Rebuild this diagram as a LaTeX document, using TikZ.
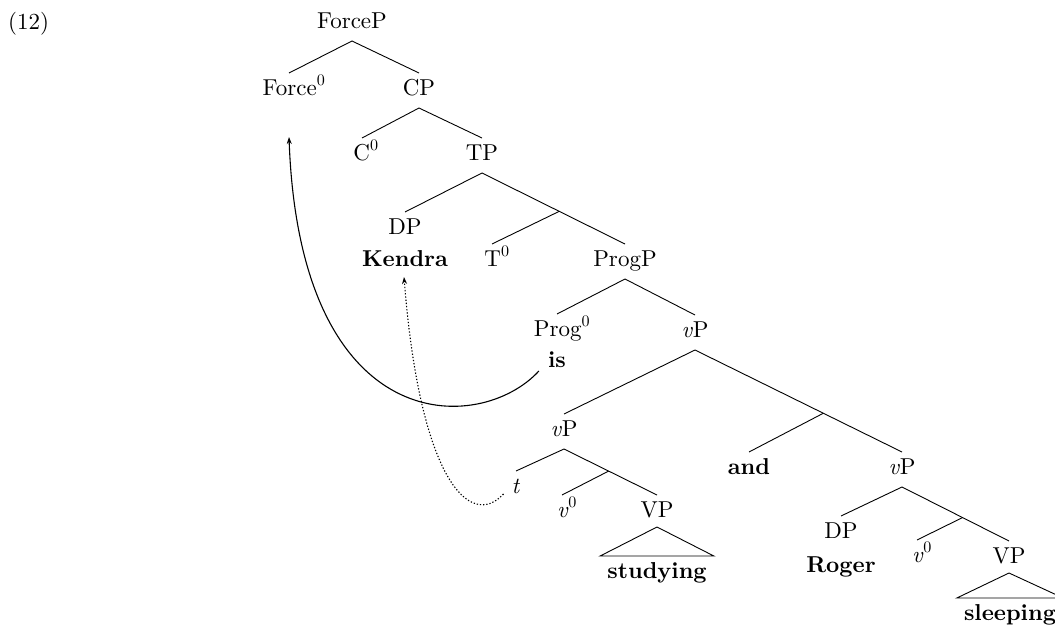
\documentclass[tikz,border=0pt]{standalone}
\usepackage{fontspec}
\setmainfont{lmroman10}[Extension=.otf, UprightFont=*-regular, BoldFont=*-bold, ItalicFont=*-italic, BoldItalicFont=*-bolditalic]
\usetikzlibrary{arrows.meta,calc}
\begin{document}
\begin{tikzpicture}[x=1pt,y=-1pt,
  lab/.style={anchor=base, inner sep=0pt, font=\fontsize{23}{27}\selectfont},
  lex/.style={lab, font=\fontsize{23}{27}\selectfont\bfseries},
  br/.style={line width=0.9pt},
  mv/.style={line width=1.1pt, -{Stealth[length=7pt,width=5pt]}},
  trace/.style={line width=1.1pt, dash pattern=on 1.3pt off 1.9pt, -{Stealth[length=7pt,width=5pt]}}]
\path[use as bounding box] (0,0) rectangle (1055,629);

% labels
\node[lab, anchor=base west] (ex) at (8,29) {(12)};
\node[lab] (ForceP) at (352,28) {ForceP};
\node[lab] (Force0) at (294,95) {Force\textsuperscript{0}};
\node[lab] (CP) at (419,95) {CP};
\node[lab] (C0) at (366,160) {C\textsuperscript{0}};
\node[lab] (TP) at (482,160) {TP};
\node[lab] (DP1) at (405,234) {DP};
\node[lex] (Kendra) at (405,266) {Kendra};
\node[lab] (T0) at (497,266) {T\textsuperscript{0}};
\node[lab] (ProgP) at (625,266) {ProgP};
\node[lab] (Prog0) at (562,336) {Prog\textsuperscript{0}};
\node[lex] (is) at (557,367) {is};
\node[lab] (vP1) at (695,337) {\textit{v}P};
\node[lab] (vP2) at (564,436) {\textit{v}P};
\node[lab] (t) at (516,493) {\textit{t}};
\node[lab] (v01) at (567,517) {\textit{v}\textsuperscript{0}};
\node[lab] (VP1) at (657,517) {VP};
\node[lex] (studying) at (657,578) {studying};
\node[lex] (and) at (749,474) {and};
\node[lab] (vP3) at (902,474) {\textit{v}P};
\node[lab] (DP2) at (841,538) {DP};
\node[lex] (Roger) at (841,572) {Roger};
\node[lab] (v02) at (922,562) {\textit{v}\textsuperscript{0}};
\node[lab] (VP2) at (1009,563) {VP};
\node[lex] (sleeping) at (1010,620) {sleeping};

% branch points
\coordinate (ForcePb) at ([yshift=-13pt]ForceP.base);
\coordinate (CPb) at ([yshift=-13pt]CP.base);
\coordinate (TPb) at ([yshift=-13pt]TP.base);
\coordinate (ProgPb) at ([yshift=-13pt]ProgP.base);
\coordinate (vP1b) at ([yshift=-13pt]vP1.base);
\coordinate (vP2b) at ([yshift=-13pt]vP2.base);
\coordinate (vP3b) at ([yshift=-13pt]vP3.base);
\coordinate (ProgPt) at ([yshift=22pt]ProgP.base);
\coordinate (vP3t) at ([yshift=22pt]vP3.base);
\coordinate (VP1t) at ([yshift=22pt]VP1.base);
\coordinate (VP2t) at ([yshift=22pt]VP2.base);
\coordinate (Tbar) at ($(TPb)!0.54!(ProgPt)$);
\coordinate (andP) at ($(vP1b)!0.62!(vP3t)$);
\coordinate (vbar1) at ($(vP2b)!0.48!(VP1t)$);
\coordinate (vbar2) at ($(vP3b)!0.566!(VP2t)$);

% branches
\draw[br] ([xshift=-5pt,yshift=22pt]Force0.base) -- (ForcePb) -- ([yshift=22pt]CP.base);
\draw[br] ([xshift=-4pt,yshift=22pt]C0.base) -- (CPb) -- ([yshift=22pt]TP.base);
\draw[br] ([yshift=22pt]DP1.base) -- (TPb) -- (ProgPt);
\draw[br] (Tbar) -- ([xshift=-5pt,yshift=22pt]T0.base);
\draw[br] ([xshift=-5pt,yshift=22pt]Prog0.base) -- (ProgPb) -- ([yshift=22pt]vP1.base);
\draw[br] ([yshift=22pt]vP2.base) -- (vP1b) -- (vP3t);
\draw[br] (andP) -- ([yshift=22pt]and.base);
\draw[br] ([yshift=22pt]t.base) -- (vP2b) -- (VP1t);
\draw[br] (vbar1) -- ([xshift=-5pt,yshift=22pt]v01.base);
\draw[br] ([yshift=22pt]DP2.base) -- (vP3b) -- (VP2t);
\draw[br] (vbar2) -- ([xshift=-5pt,yshift=22pt]v02.base);

% triangles
\draw[br] ([yshift=-10pt]VP1.base) -- ([xshift=-7pt,yshift=22pt]studying.base west) -- ([xshift=7pt,yshift=22pt]studying.base east) -- cycle;
\draw[br] ([yshift=-10pt]VP2.base) -- ([xshift=-7pt,yshift=22pt]sleeping.base west) -- ([xshift=7pt,yshift=22pt]sleeping.base east) -- cycle;

% movement arrows
\draw[mv] ([xshift=-9pt,yshift=-4pt]is.base west) .. controls (480,435) and (300,440) .. ([xshift=-5pt,yshift=-42pt]Force0.base);
\draw[trace] ([xshift=-8pt,yshift=-1pt]t.base west) .. controls (470,530) and (420,480) .. ([xshift=-1pt,yshift=-11pt]Kendra.base);
\end{tikzpicture}
\end{document}
